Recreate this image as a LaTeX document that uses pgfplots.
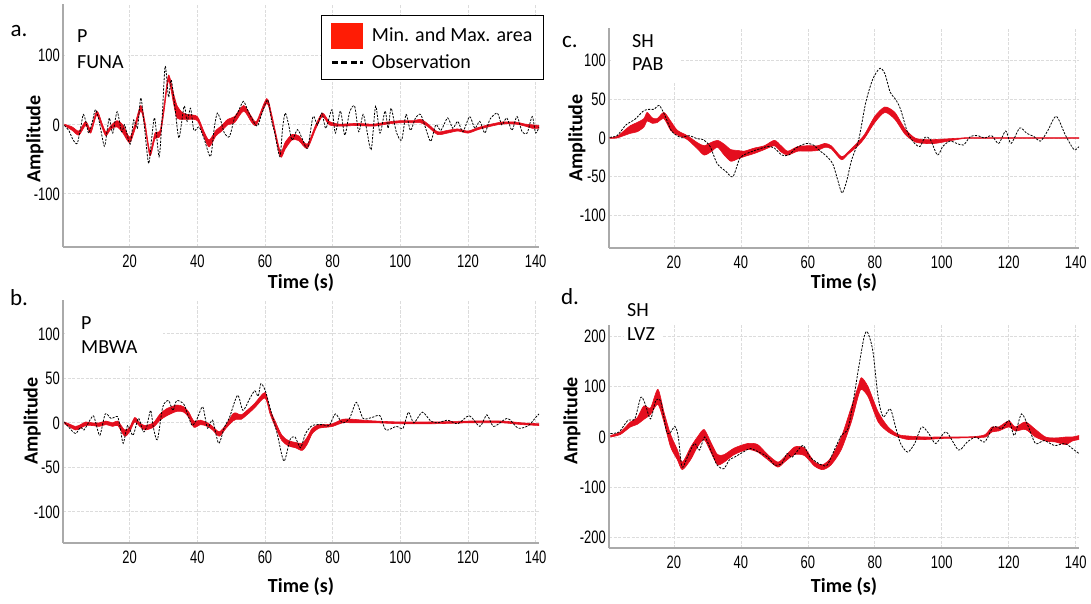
\documentclass[border=0pt]{standalone}
\usepackage{fontspec}
\setmainfont{Carlito}
\newfontfamily\ticfont[FakeStretch=0.72]{Liberation Sans}
\usepackage{pgfplots}
\usepackage{pgfplotstable}
\pgfplotsset{compat=1.18}
\usepgfplotslibrary{fillbetween}
\definecolor{bandred}{RGB}{228,14,30}
\definecolor{legred}{RGB}{255,28,5}
\definecolor{gridgray}{RGB}{220,220,220}
\definecolor{axgray}{RGB}{170,170,170}

% ---------- Panel a: P FUNA ----------
\pgfplotstableread{
x h l
0.7 1 -1
3 -3 -8
5 -9 -15
7 5 -1
8.5 -6 -12
10.3 20 14
12 0 -6
13 -10 -16
14.5 -1 -6
16.3 6 -3
18 0 -12
20 -18 -26
21.5 0 -8
23.3 28 20
24.5 5 -3
26 -38 -45
27.5 -12 -20
29 -8 -16
30.2 30 20
31.5 72 64
33 45 30
34 28 10
35.5 18 8
37 15 8
40 12 6
42 -10 -18
43.5 -22 -32
45.5 -8 -16
47 -2 -10
49 8 0
51 12 3
53.7 28 20
56 12 4
57.5 5 0
60.5 38 31
62 15 8
64.5 -38 -46
66 -25 -35
68 -14 -22
70 -16 -23
72.5 -28 -34
75 0 -6
77 17 12
79 5 0
82 1 -2
87 2 -1
92 1 -2
96 4 1
100 6 3
104 6 3
106 8 3
108 2 -2
111 -10 -14
114 -8 -12
117 -6 -9
120 -9 -12
123 -4 -7
126 0 -3
130 4 1
134 4 1
137 1 -2
139 0 -5
141 -1 -5
}\bandA
\pgfplotstableread{
x y
0.7 -1
2 -8
3.3 -22
4.5 -27
5.5 -5
6.3 15
7.2 2
7.9 -12
9 5
9.9 22
11 5
12.5 -31
13.3 -10
14 10
15 -12
16.3 19
17.6 -10
18.5 0
19.3 -15
20.2 -28
21.2 7
22.3 -5
23.3 39
24.3 0
25.6 -56
26.5 -20
27.4 10
28.7 -46
29.6 10
30.5 85
31.5 40
32.3 65
33.5 20
34.6 -19
36.1 27
37 5
38 24
39 -8
40.5 -3
42 -20
43.9 -46
45 -5
45.9 17
47 5
48 -12
49.5 -17
51 10
52 18
53.6 34
55 20
56 10
57.7 -2
59 15
60.8 36
62 5
62.9 -12
64.4 -46
65.2 -5
66 17
67 0
68 -22
69.6 -7
71 -20
72.6 -34
74.2 12
75.5 0
76.8 17
78 -5
79.8 22
80.8 -12
82.3 20
83.6 -15
85 18
86.5 27
87.7 -10
89 15
90 -5
91.4 -36
92.7 27
94 -12
95.5 20
96.4 -5
97.3 24
98.8 -10
100.4 -22
101.7 15
103 -8
104.5 10
106 15
107.5 -5
109 -24
110.5 0
112 -8
114 10
115.5 -5
117 5
118.5 -10
120.5 12
122 -5
123.5 5
125 -12
126.5 8
128.7 17
130 0
131.5 10
133 -8
134.5 12
136 -10
137.5 -12
139 12
140 -12
141 -3
}\obsA

% ---------- Panel b: P MBWA ----------
\pgfplotstableread{
x h l
0.7 1 -1
2 -1 -4
4 -4 -8
5.5 -2 -6
7 1 -3
9 0 -3
11 0 -4
13 2 -2
15 0 -4
16.5 2 -3
18.5 -8 -15
20 -5 -10
21.5 6 1
23 0 -4
24.5 -3 -8
27 0 -5
29 10 3
31 16 8
34 20 13
36 18 12
37.5 12 6
39 2 -5
41 3 -2
43 0 -4
44.5 -4 -8
46.5 -10 -15
48.5 -2 -6
50.5 10 2
51.5 11 4
53 9 4
55 15 10
57 22 17
60 34 28
61.5 15 10
63 2 -4
65 -14 -20
67 -20 -26
69 -22 -28
71 -23 -31
72.5 -16 -24
74 -6 -12
76 -2 -6
78 -2 -5
80 -1 -4
83 4 0
86 4 0
89 3 0
93 2 0
100 1 -1
110 1 -1
120 2 0
130 2 0
136 0 -2
141 -1 -3
}\bandB
\pgfplotstableread{
x y
0.7 1
2 -5
4 -12
5.5 -5
6.5 -8
7.5 -2
9.2 8
10 0
11.2 -14
12.8 10
14.5 5
16.4 7
17.2 -5
18.1 -23
19.4 -3
21 -14
22.6 5
24 -10
25 -5
26.2 14
27 -5
28.2 -19
29.8 18
31.5 25
32.8 14
33.9 25
36 21
37.3 8
38.5 -3
40 5
41.6 18
43 -6
44.5 3
46.3 -23
48 -5
49.5 6
51.9 31
53.5 14
55.6 28
57 36
58 30
58.8 44
60.1 36
61.7 14
63.6 -12
65.6 -43
67.4 -19
68.9 -16
70.5 -28
72 -12
74 -3
77 -2
79 -3
80.8 10
82.9 0
85 5
87 23
89 5
91.6 6
94 8
95.7 -8
98.8 -4
100.8 -6
102.4 12
104 0
106.5 12
109 2
111 0
114 3
117 -1
120.4 8
123.5 -4
125.6 9
127.6 -4
131.7 5
134.8 -6
137.9 -3
140 6
141 10
}\obsB

% ---------- Panel c: SH PAB ----------
\pgfplotstableread{
x h l
0.8 0.5 -0.5
3 2 0
5 9 3
7 16 6
9 20 8
11 25 14
12 33 22
13.5 26 19
15 25 20
17 33 25
19 22 10
21 10 4
24 3 -2
27 -6 -14
29 -10 -22
31 -6 -18
33 -3 -12
35 -8 -22
37 -15 -30
39 -16 -27
41 -17 -24
44 -13 -20
47 -10 -15
50 -3 -10
52 -10 -18
54 -17 -22
57 -11 -17
60 -10 -17
63 -10 -16
65 -7 -12
67 -10 -14
70 -24 -28
72 -18 -21
75 -5 -10
77 5 0
80 28 20
83 40 33
86 33 24
89 12 5
92 0 -5
95 -2 -7
98 -2 -7
102 -1 -4
106 0 -1
110 0.5 -0.5
141 0.5 -0.5
}\bandC
\pgfplotstableread{
x y
0.8 1
3 3
5.7 17
8.3 24
10.9 35
12.5 37
14 37
15.6 42
17.2 30
19.3 9
21.9 1
24.5 3
27 -1
28.7 -2
30.8 -11
32.9 -33
35.5 -43
37.6 -50
39.7 -26
41.8 -20
44.9 -15
48 -11
50 -13
52.2 -22
54.3 -22
56.4 -13
59.5 -7
61.6 -9
63.7 -17
65.2 -22
67.4 -33
68.9 -54
70.2 -71
71.5 -57
73.1 -28
75.2 -2
77.3 46
79.4 76
81.5 90
83 83
84.6 59
86.2 50
87.7 37
89.8 7
91.9 -7
93.5 -11
95 1
96.6 -2
98.7 -22
100.3 -11
102.4 -4
104.5 -7
106.5 -9
108.6 2
110.7 3
112.8 0
114.9 3
117 -7
119.1 9
120.7 -7
123.3 13
125.4 6
127.5 2
129.5 -4
131.6 9
134.2 28
136.9 4
139.5 -15
141 -11
}\obsC

% ---------- Panel d: SH LVZ ----------
\pgfplotstableread{
x h l
1 3 0
4 10 5
7 30 20
9 38 25
11 62 35
13 58 45
15.2 95 65
17 50 30
19 5 -20
21 -25 -45
22.5 -50 -65
25 -20 -45
27 0 -20
29 15 -5
31 -10 -30
33 -35 -55
35 -35 -50
38 -22 -35
42 -13 -25
45 -15 -30
48 -35 -45
51 -50 -60
53 -40 -50
56 -20 -35
59 -22 -37
62 -50 -58
64.5 -55 -65
67 -40 -55
70 0 -25
73 60 30
75 100 80
76 118 95
78 100 80
81 50 30
84 20 10
87 5 0
90 2 -5
95 0 -5
100 0 -3
105 0 -2
110 1 -1
113 5 0
115 20 10
117 20 12
120 32 20
122 20 12
125 30 15
128 15 0
131 0 -8
134 -2 -10
137 0 -15
139 0 -8
141 3 -5
}\bandD
\pgfplotstableread{
x y
1 7
3.6 10
6.2 33
8.3 36
10.1 79
11.4 66
13 36
14.6 73
16.1 70
17.7 13
18.7 7
20.3 21
21.3 0
22.4 -60
24 -40
26.1 -13
27.6 -26
29.2 0
31 -26
32.9 -56
34.9 -63
36.5 -46
38.1 -40
40.7 -30
42.8 -23
45.4 -30
48 -40
50.1 -56
52.2 -53
53.8 -33
55.3 -40
58.5 -17
60.6 -40
62.6 -50
64.2 -56
65.8 -56
67.9 -26
70 3
72 17
73.6 73
75.2 139
76.8 199
77.8 209
79.4 172
81 79
82.5 40
84.6 56
86.2 20
87.7 -13
89.8 -30
91.9 -13
94 20
96.1 7
98.2 -13
101.3 10
105 -26
107.6 -10
110.2 0
112.8 -10
115.4 20
118 17
120.1 33
121.7 3
123.8 46
125.9 20
128 -13
130.6 -7
133.7 -17
136.8 -13
139 -23
141 -33
}\obsD

\pgfplotsset{
  panel/.style={
    scale only axis,
    axis x line*=bottom, axis y line*=left,
    axis line style={axgray, line width=1.2pt},
    major tick length=0pt,
    xtick={20,40,...,140}, xticklabels={20,40,60,80,100,120,140},
    grid=major,
    major grid style={gridgray, line width=0.7pt, dash pattern=on 3pt off 1.5pt},
    tick label style={font=\ticfont\fontsize{18}{18}\selectfont, inner sep=1pt},
    xticklabel style={yshift=-7pt},
    yticklabel style={xshift=-2pt},
    label style={font=\bfseries\fontsize{20}{20}\selectfont},
    xlabel={Time (s)}, ylabel={Amplitude},
  },
  obs/.style={black, line width=0.8pt, dash pattern=on 2.2pt off 1.3pt, smooth, tension=0.45},
  band/.style={bandred, line width=0.6pt, smooth, tension=0.45},
}

\begin{document}
\begin{tikzpicture}

% ---- a ----
\begin{axis}[panel, at={(63pt,356pt)}, anchor=south west, width=476pt, height=243pt,
  xmin=0.3, xmax=141, ymin=-177, ymax=175,
  ytick={-100,0,100}, yticklabels={-100,0,100},
  ylabel style={at={(axis description cs:-0.0588,0.444)}, anchor=center},
  xlabel style={at={(axis description cs:0.5,-0.148)}, anchor=center},
  legend style={at={(axis description cs:1.0105,0.955)}, anchor=north east,
    draw=black, line width=1.2pt, fill=white,
    font=\fontsize{20}{20}\selectfont, inner xsep=9pt, inner ysep=7pt,
    row sep=4pt, column sep=6pt},
  legend cell align=left]
\addplot[name path=aH, band, forget plot] table[x=x,y=h]{\bandA};
\addplot[name path=aL, band, forget plot] table[x=x,y=l]{\bandA};
\addplot[bandred, forget plot] fill between[of=aH and aL];
\addplot[obs, forget plot] table[x=x,y=y]{\obsA};
\addlegendimage{legend image code/.code={\fill[legred] (0pt,-12.5pt) rectangle (31pt,12.5pt);}}
\addlegendentry{Min. and Max. area}
\addlegendimage{legend image code/.code={\draw[black, line width=2.2pt, dash pattern=on 6pt off 3.5pt] (0pt,0pt) -- (31pt,0pt);}}
\addlegendentry{Observation}
\end{axis}

% ---- b ----
\begin{axis}[panel, at={(63pt,60pt)}, anchor=south west, width=476pt, height=243pt,
  xmin=0.3, xmax=141, ymin=-135, ymax=138,
  ytick={-100,-50,0,50,100}, yticklabels={-100,-50,0,50,100},
  ylabel style={at={(axis description cs:-0.065,0.502)}, anchor=center},
  xlabel style={at={(axis description cs:0.5,-0.181)}, anchor=center}]
\addplot[name path=bH, band] table[x=x,y=h]{\bandB};
\addplot[name path=bL, band] table[x=x,y=l]{\bandB};
\addplot[bandred] fill between[of=bH and bL];
\addplot[obs] table[x=x,y=y]{\obsB};
\end{axis}

% ---- c ----
\begin{axis}[panel, at={(609pt,355pt)}, anchor=south west, width=470pt, height=220pt,
  xmin=0.6, xmax=141, ymin=-142, ymax=142,
  ytick={-100,-50,0,50,100}, yticklabels={-100,-50,0,50,100},
  ylabel style={at={(axis description cs:-0.068,0.5)}, anchor=center},
  xlabel style={at={(axis description cs:0.5,-0.159)}, anchor=center}]
\addplot[name path=cH, band] table[x=x,y=h]{\bandC};
\addplot[name path=cL, band] table[x=x,y=l]{\bandC};
\addplot[bandred] fill between[of=cH and cL];
\addplot[obs] table[x=x,y=y]{\obsC};
\end{axis}

% ---- d ----
\begin{axis}[panel, at={(609pt,55pt)}, anchor=south west, width=470pt, height=223pt,
  xmin=0.6, xmax=141, ymin=-221, ymax=223,
  ytick={-200,-100,0,100,200}, yticklabels={-200,-100,0,100,200},
  ylabel style={at={(axis description cs:-0.079,0.570)}, anchor=center},
  xlabel style={at={(axis description cs:0.5,-0.175)}, anchor=center}]
\addplot[name path=dH, band] table[x=x,y=h]{\bandD};
\addplot[name path=dL, band] table[x=x,y=l]{\bandD};
\addplot[bandred] fill between[of=dH and dL];
\addplot[obs] table[x=x,y=y]{\obsD};
\end{axis}

% ---- panel texts ----
\fill[white] (64.5pt,597pt) rectangle (128pt,527pt);
\fill[white] (64.5pt,302pt) rectangle (163pt,237pt);
\fill[white] (610.5pt,574pt) rectangle (680pt,521pt);
\fill[white] (624pt,281pt) rectangle (662pt,254pt);

\begin{scope}[every node/.style={inner sep=0pt, font=\fontsize{20}{20}\selectfont}]
\node[anchor=center, font=\fontsize{23}{23}\selectfont] at (19pt,572pt) {a.};
\node[anchor=center, font=\fontsize{23}{23}\selectfont] at (19pt,305pt) {b.};
\node[anchor=center, font=\fontsize{23}{23}\selectfont] at (570pt,561pt) {c.};
\node[anchor=center, font=\fontsize{23}{23}\selectfont] at (570pt,306pt) {d.};
\node[anchor=west] at (77pt,567pt) {P};
\node[anchor=west] at (77pt,541pt) {FUNA};
\node[anchor=west] at (81pt,280pt) {P};
\node[anchor=west] at (81pt,256pt) {MBWA};
\node[anchor=west] at (632pt,562pt) {SH};
\node[anchor=west] at (632pt,539pt) {PAB};
\node[anchor=west] at (627pt,293pt) {SH};
\node[anchor=west] at (627pt,269pt) {LVZ};
\end{scope}
\useasboundingbox (0pt,0pt) rectangle (1091pt,603pt);
\end{tikzpicture}
\end{document}
